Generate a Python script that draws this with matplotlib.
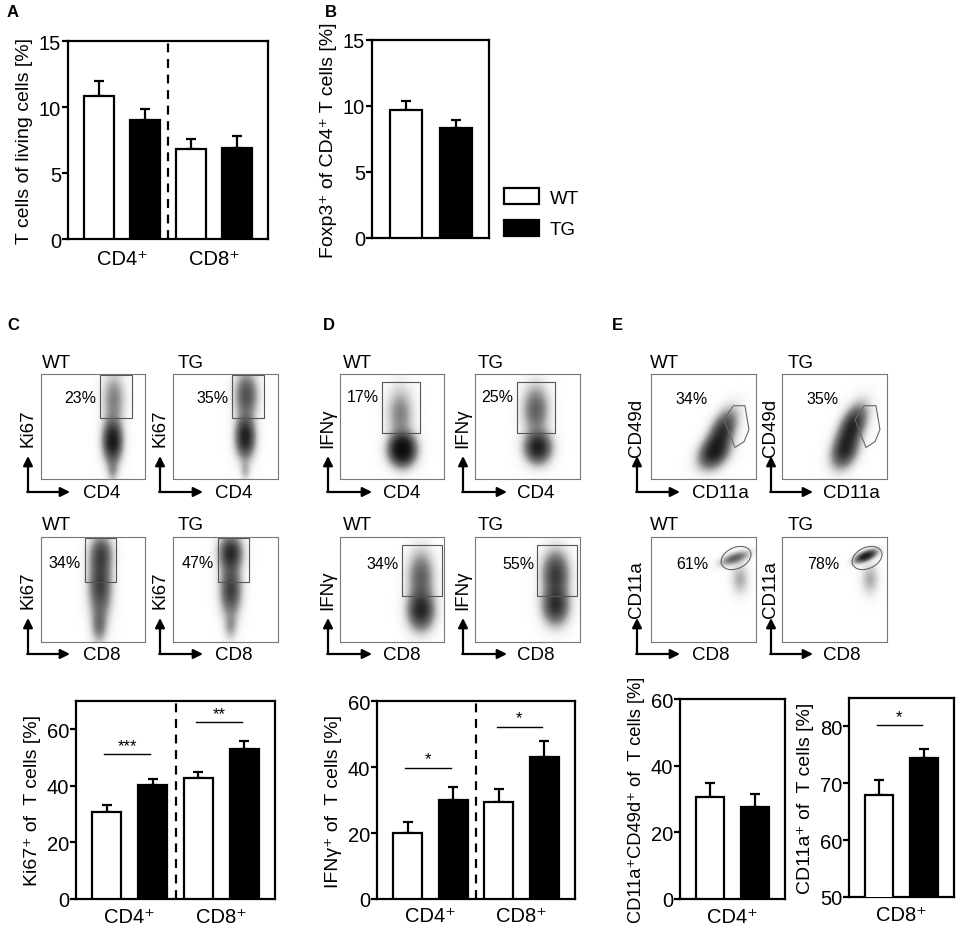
import numpy as np
import matplotlib
matplotlib.use('Agg')
import matplotlib.pyplot as plt
from matplotlib.patches import Rectangle, Polygon, Ellipse, Patch

plt.rcParams['font.family'] = ['Liberation Sans', 'DejaVu Sans']

W, H = 957, 929

# ---- bar chart data (mean, SEM) ----
groups_ab = ['CD4⁺', 'CD8⁺']
a_wt, a_wt_err = [10.8, 6.8], [1.15, 0.8]
a_tg, a_tg_err = [9.0, 6.9], [0.85, 0.9]

b_wt, b_wt_err = [9.7], [0.7]
b_tg, b_tg_err = [8.33], [0.6]

c_wt, c_wt_err = [30.7, 42.7], [2.5, 2.1]
c_tg, c_tg_err = [40.2, 52.9], [2.2, 2.9]
c_sig = [(0, 1, 51.2, '***'), (2, 3, 62.5, '**')]

d_wt, d_wt_err = [19.9, 29.5], [3.3, 3.7]
d_tg, d_tg_err = [30.1, 43.1], [3.7, 4.8]
d_sig = [(0, 1, 39.8, '*'), (2, 3, 52.2, '*')]

e1_wt, e1_wt_err = [30.6], [4.2]
e1_tg, e1_tg_err = [27.6], [3.9]

e2_wt, e2_wt_err = [68.0], [2.5]
e2_tg, e2_tg_err = [74.5], [1.6]
e2_sig = [(0, 1, 80.2, '*')]

# ---- flow plot data: populations (cx, cy, sx, sy, rho, weight) ----
c1_wt_cells = [(0.69, 0.36, 0.055, 0.12, 0, 1.1), (0.70, 0.76, 0.065, 0.15, 0, 0.3), (0.69, 0.08, 0.035, 0.07, 0, 0.2)]
c1_tg_cells = [(0.69, 0.40, 0.055, 0.12, 0, 1.0), (0.70, 0.80, 0.065, 0.13, 0, 0.55), (0.69, 0.08, 0.03, 0.06, 0, 0.15)]
c2_wt_cells = [(0.57, 0.55, 0.065, 0.2, 0, 0.7), (0.58, 0.85, 0.065, 0.1, 0, 0.45), (0.56, 0.15, 0.045, 0.1, 0, 0.3)]
c2_tg_cells = [(0.55, 0.85, 0.065, 0.1, 0, 0.85), (0.55, 0.5, 0.06, 0.15, 0, 0.7), (0.55, 0.15, 0.04, 0.08, 0, 0.2)]
d1_wt_cells = [(0.60, 0.28, 0.075, 0.09, 0, 1.5), (0.58, 0.62, 0.075, 0.15, 0, 0.3)]
d1_tg_cells = [(0.60, 0.30, 0.075, 0.09, 0, 1.0), (0.58, 0.66, 0.075, 0.14, 0, 0.45)]
d2_wt_cells = [(0.78, 0.30, 0.075, 0.11, 0, 0.9), (0.78, 0.62, 0.075, 0.15, 0, 0.45)]
d2_tg_cells = [(0.77, 0.35, 0.075, 0.11, 0, 0.8), (0.77, 0.65, 0.075, 0.13, 0, 0.7)]
e1_wt_cells = [(0.60, 0.25, 0.085, 0.09, 0.3, 0.9), (0.68, 0.45, 0.08, 0.12, 0.5, 0.8)]
e1_tg_cells = [(0.60, 0.27, 0.075, 0.10, 0.3, 0.8), (0.67, 0.50, 0.08, 0.12, 0.5, 0.9)]
e2_wt_cells = [(0.80, 0.80, 0.08, 0.04, 0.6, 0.45), (0.85, 0.60, 0.05, 0.09, 0, 0.18)]
e2_tg_cells = [(0.80, 0.82, 0.06, 0.035, 0.6, 1.1), (0.84, 0.60, 0.05, 0.09, 0, 0.18)]

# gates: rectangles (x0, y0, x1, y1), percentages
c_gates = [(0.57, 0.58, 0.875, 0.99), (0.56, 0.58, 0.87, 0.99), (0.42, 0.57, 0.72, 0.99), (0.43, 0.57, 0.72, 0.99)]
c_pct = ['23%', '35%', '34%', '47%']
c_pct_pos = [(0.38, 0.78), (0.38, 0.78), (0.23, 0.76), (0.24, 0.76)]
d_gates = [(0.40, 0.44, 0.77, 0.92), (0.40, 0.44, 0.76, 0.92), (0.60, 0.44, 0.98, 0.92), (0.59, 0.44, 0.97, 0.92)]
d_pct = ['17%', '25%', '34%', '55%']
d_pct_pos = [(0.22, 0.79), (0.21, 0.79), (0.41, 0.75), (0.41, 0.75)]
e_poly = [(0.695, 0.566), (0.784, 0.698), (0.895, 0.698), (0.933, 0.47), (0.886, 0.356), (0.80, 0.30)]
e_ell = (0.81, 0.80, 0.30, 0.20, 25)
e_pct = ['34%', '35%', '61%', '78%']
e_pct_pos = [(0.39, 0.77), (0.39, 0.77), (0.39, 0.75), (0.39, 0.75)]

fig = plt.figure(figsize=(W / 100, H / 100), dpi=100)


def px_ax(x0, y0, x1, y1, **kw):
    return fig.add_axes([x0 / W, 1 - y1 / H, (x1 - x0) / W, (y1 - y0) / H], **kw)


def bar_panel(ax, wt, wt_err, tg, tg_err, groups, ylim, yticks, ylabel, divider=False, sig=None,
              ylabel_size=14, xpad=7):
    n = len(wt)
    pw = [2 * i for i in range(n)]
    pt = [2 * i + 1 for i in range(n)]
    ax.bar(pw, wt, width=0.64, color='white', edgecolor='black', lw=1.6, zorder=3)
    ax.bar(pt, tg, width=0.64, color='black', edgecolor='black', lw=1.6, zorder=3)
    ax.errorbar(pw, wt, yerr=[np.zeros(n), wt_err], fmt='none', ecolor='k',
                elinewidth=1.6, capsize=3.3, capthick=1.6, zorder=2)
    ax.errorbar(pt, tg, yerr=[np.zeros(n), tg_err], fmt='none', ecolor='k',
                elinewidth=1.6, capsize=3.3, capthick=1.6, zorder=2)
    if divider:
        ax.axvline(1.5, ls=(0, (4, 3)), lw=1.6, color='k')
    if sig:
        for x0, x1, y, s in sig:
            ax.plot([x0 - 0.05, x1 - 0.05], [y, y], lw=1, color='k')
            ax.annotate(s, ((x0 + x1) / 2 - 0.05, y), xytext=(0, 1), textcoords='offset points',
                        ha='center', va='bottom', fontsize=12)
    ax.set_xlim(-0.67, 2 * n - 1 + 0.67)
    ax.set_ylim(*ylim)
    ax.set_yticks(yticks)
    ax.set_xticks([2 * i + 0.5 for i in range(n)])
    ax.set_xticklabels(groups)
    for sp in ax.spines.values():
        sp.set_linewidth(1.6)
    ax.tick_params(axis='y', direction='out', length=4, width=1.6, labelsize=14.5, pad=1)
    ax.tick_params(axis='x', length=0, labelsize=14.5, pad=xpad)
    ax.set_ylabel(ylabel, fontsize=ylabel_size, labelpad=4)


def cloud_image(cells, n=160):
    xs = np.linspace(0, 1, n)
    X, Y = np.meshgrid(xs, xs)
    Z = np.zeros_like(X)
    for cx, cy, sx, sy, rho, w in cells:
        dx = (X - cx) / sx
        dy = (Y - cy) / sy
        q = (dx ** 2 - 2 * rho * dx * dy + dy ** 2) / (1 - rho ** 2)
        Z += w * np.exp(-0.5 * q)
    return 1 - np.exp(-2.2 * Z ** 0.8)


def flow_ax(x0, y0, x1, y1, cells):
    ax = px_ax(x0, y0, x1, y1)
    ax.imshow(cloud_image(cells), extent=(0, 1, 0, 1), origin='lower', cmap='Greys',
              vmin=0, vmax=1, aspect='auto', interpolation='bilinear')
    ax.set_xlim(0, 1)
    ax.set_ylim(0, 1)
    ax.set_xticks([])
    ax.set_yticks([])
    for sp in ax.spines.values():
        sp.set_linewidth(0.8)
        sp.set_color('#777777')
    return ax


# ---- panel A / B ----
axA = px_ax(68, 42, 268, 240)
bar_panel(axA, a_wt, a_wt_err, a_tg, a_tg_err, groups_ab, (0, 15), [0, 5, 10, 15],
          'T cells of living cells [%]', divider=True)

axB = px_ax(372, 41, 489, 239)
bar_panel(axB, b_wt, b_wt_err, b_tg, b_tg_err, [''], (0, 15), [0, 5, 10, 15],
          'Foxp3⁺ of CD4⁺ T cells [%]')

fig.legend(handles=[Patch(facecolor='white', edgecolor='black', lw=1.6),
                    Patch(facecolor='black', edgecolor='black', lw=1.6)],
           labels=['WT', 'TG'], loc='upper left', bbox_to_anchor=(504 / W, 1 - 189 / H),
           frameon=False, fontsize=13.5, handlelength=1.85, handleheight=0.95,
           labelspacing=0.7, handletextpad=0.6, borderpad=0, borderaxespad=0)

# ---- flow plots ----
rows_y = [(375, 480), (538, 643)]
c_cols = [(41, 145), (173, 278)]
d_cols = [(340, 444), (475, 580)]
e_cols = [(651, 756), (782, 887)]

c_cells = [c1_wt_cells, c1_tg_cells, c2_wt_cells, c2_tg_cells]
d_cells = [d1_wt_cells, d1_tg_cells, d2_wt_cells, d2_tg_cells]
e_cells = [e1_wt_cells, e1_tg_cells, e2_wt_cells, e2_tg_cells]

k = 0
for r, (y0, y1) in enumerate(rows_y):
    for c in range(2):
        ax = flow_ax(c_cols[c][0], y0, c_cols[c][1], y1, c_cells[k])
        gx0, gy0, gx1, gy1 = c_gates[k]
        ax.add_patch(Rectangle((gx0, gy0), gx1 - gx0, gy1 - gy0, fill=False, lw=0.8, ec='#555555'))
        ax.text(*c_pct_pos[k], c_pct[k], fontsize=11.5, ha='center', va='center')

        ax = flow_ax(d_cols[c][0], y0, d_cols[c][1], y1, d_cells[k])
        gx0, gy0, gx1, gy1 = d_gates[k]
        ax.add_patch(Rectangle((gx0, gy0), gx1 - gx0, gy1 - gy0, fill=False, lw=0.8, ec='#555555'))
        ax.text(*d_pct_pos[k], d_pct[k], fontsize=11.5, ha='center', va='center')

        ax = flow_ax(e_cols[c][0], y0, e_cols[c][1], y1, e_cells[k])
        if r == 0:
            ax.add_patch(Polygon(e_poly, closed=True, fill=False, lw=0.8, ec='#666666'))
        else:
            ex, ey, ew, eh, ang = e_ell
            ax.add_patch(Ellipse((ex, ey), ew, eh, angle=ang, fill=False, lw=0.8, ec='#666666'))
        ax.text(*e_pct_pos[k], e_pct[k], fontsize=11.5, ha='center', va='center')
        k += 1

# ---- panel C / D / E bar charts ----
axC = px_ax(76, 702, 275, 900)
bar_panel(axC, c_wt, c_wt_err, c_tg, c_tg_err, groups_ab, (0, 70), [0, 20, 40, 60],
          'Ki67⁺ of  T cells [%]', divider=True, sig=c_sig, xpad=6)

axD = px_ax(377, 702, 575, 900)
bar_panel(axD, d_wt, d_wt_err, d_tg, d_tg_err, groups_ab, (0, 60), [0, 20, 40, 60],
          'IFNγ⁺ of  T cells [%]', divider=True, sig=d_sig, xpad=5)

axE1 = px_ax(680, 700, 785, 900)
bar_panel(axE1, e1_wt, e1_wt_err, e1_tg, e1_tg_err, ['CD4⁺'], (0, 60), [0, 20, 40, 60],
          'CD11a⁺CD49d⁺ of  T cells [%]', ylabel_size=13.2, xpad=6)

axE2 = px_ax(849, 699, 954, 898)
bar_panel(axE2, e2_wt, e2_wt_err, e2_tg, e2_tg_err, ['CD8⁺'], (50, 85), [50, 60, 70, 80],
          'CD11a⁺ of  T cells [%]', sig=e2_sig, xpad=6)

# ---- overlay: panel letters, flow axis arrows and labels ----
ov = fig.add_axes([0, 0, 1, 1], zorder=10)
ov.set_xlim(0, W)
ov.set_ylim(H, 0)
ov.axis('off')
ov.patch.set_alpha(0)

for letter, (lx, ly) in zip('ABCDE', [(13, 12), (331, 12), (13, 325), (329, 325), (617, 325)]):
    ov.text(lx, ly, letter, fontsize=12, fontweight='bold', ha='center', va='center')

arrow_kw = dict(arrowstyle='-|>', lw=1.6, color='k', mutation_scale=14, shrinkA=0, shrinkB=0)
c_ylabs = ['Ki67', 'Ki67']
d_ylabs = ['IFNγ', 'IFNγ']
e_ylabs = ['CD49d', 'CD11a']
panels = [
    ([28, 160], [70, 203], [83, 215], c_ylabs, [['CD4', 'CD4'], ['CD8', 'CD8']], [42, 178]),
    ([328, 463], [372, 507], [383, 517], d_ylabs, [['CD4', 'CD4'], ['CD8', 'CD8']], [343, 478]),
    ([637, 771], [680, 813], [692, 823], e_ylabs, [['CD11a', 'CD11a'], ['CD8', 'CD8']], [650, 788]),
]
row_base = [493, 655]
row_title = [363, 526]
for vx, hx, tx, ylabs, xlabs, titlex in panels:
    for r in range(2):
        yb = row_base[r]
        for c in range(2):
            ov.annotate('', xy=(vx[c], yb - 36), xytext=(vx[c], yb), arrowprops=arrow_kw)
            ov.annotate('', xy=(hx[c], yb), xytext=(vx[c] - 0.8, yb), arrowprops=arrow_kw)
            ov.text(vx[c], yb - 65, ylabs[r], rotation=90, fontsize=13.5, ha='center', va='center')
            ov.text(tx[c], yb, xlabs[r][c], fontsize=13.5, ha='left', va='center')
            ov.text(titlex[c], row_title[r], ['WT', 'TG'][c], fontsize=13.5, ha='left', va='center')

fig.savefig('out.png', dpi=100)
